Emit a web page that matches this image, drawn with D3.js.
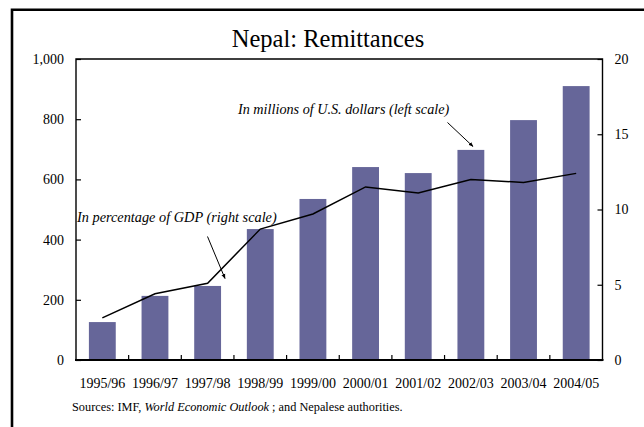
<!DOCTYPE html>
<html>
<head>
<meta charset="utf-8">
<script src="https://cdn.jsdelivr.net/npm/d3@7/dist/d3.min.js"></script>
<style>
  html, body { margin: 0; padding: 0; background: #fff; }
  svg { display: block; }
  svg text { font-family: "Liberation Serif", "Times New Roman", Times, serif; fill: #000; }
</style>
</head>
<body>
<svg id="chart" width="644" height="427"></svg>
<script>
// Fiscal years on the category axis
const years = ["1995/96", "1996/97", "1997/98", "1998/99", "1999/00",
               "2000/01", "2001/02", "2002/03", "2003/04", "2004/05"];
// Remittances, millions of U.S. dollars (bars, left scale)
const remitUSD = [126, 213, 246, 435, 535, 641, 621, 698, 797, 910];
// Remittances, percent of GDP (line, right scale)
const remitGDP = [2.8, 4.4, 5.1, 8.7, 9.7, 11.5, 11.1, 12.0, 11.8, 12.4];
// Tick values for both value axes
const leftTicks = [0, 200, 400, 600, 800, 1000];
const rightTicks = [0, 5, 10, 15, 20];

const serif = "'Liberation Serif', 'Times New Roman', Times, serif";
const svg = d3.select("#chart");
const plot = { left: 76, right: 602.5, top: 59, bottom: 360 };

const x = d3.scaleBand().domain(years).range([plot.left, plot.right]).paddingInner(0.49).paddingOuter(0.245);
const yL = d3.scaleLinear().domain([0, 1000]).range([plot.bottom, plot.top]);
const yR = d3.scaleLinear().domain([0, 20]).range([plot.bottom, plot.top]);

// Outer frame (left and top edges)
svg.append("path")
  .attr("d", "M12,427 L12,9.8 L644,9.8")
  .attr("fill", "none").attr("stroke", "#000").attr("stroke-width", 2.6);

// Title
svg.append("text")
  .attr("x", 328).attr("y", 47)
  .attr("text-anchor", "middle")
  .style("font-family", serif).style("font-size", "24.5px")
  .text("Nepal: Remittances");

// Bars
const barData = years.map((y, i) => ({ year: y, v: remitUSD[i] }));
svg.append("g").selectAll("rect").data(barData).join("rect")
  .attr("x", d => x(d.year))
  .attr("y", d => yL(d.v))
  .attr("width", x.bandwidth())
  .attr("height", d => yL(0) - yL(d.v))
  .attr("fill", "#666699");

// GDP-share line
const lineData = years.map((y, i) => ({ year: y, v: remitGDP[i] }));
svg.append("path")
  .datum(lineData)
  .attr("fill", "none").attr("stroke", "#000").attr("stroke-width", 1.5)
  .attr("d", d3.line().x(d => x(d.year) + x.bandwidth() / 2).y(d => yR(d.v)));

// Plot frame
svg.append("path")
  .attr("d", `M${plot.left},${plot.bottom} L${plot.left},${plot.top} L${plot.right},${plot.top} L${plot.right},${plot.bottom}`)
  .attr("fill", "none").attr("stroke", "#000").attr("stroke-width", 1.4);

// Left axis
const axL = svg.append("g").attr("transform", `translate(${plot.left},0)`)
  .call(d3.axisLeft(yL).tickValues(leftTicks).tickFormat(d3.format(",")).tickSizeInner(-5).tickSizeOuter(0).tickPadding(12));
axL.select(".domain").remove();

// Right axis
const axR = svg.append("g").attr("transform", `translate(${plot.right},0)`)
  .call(d3.axisRight(yR).tickValues(rightTicks).tickSizeInner(-5).tickSizeOuter(0).tickPadding(12));
axR.select(".domain").remove();

// Bottom axis: labels at band centres
const axB = svg.append("g").attr("transform", `translate(0,${plot.bottom})`)
  .call(d3.axisBottom(x).tickSize(0).tickPadding(18));
axB.select(".domain").remove();

svg.selectAll(".tick text").style("font-family", serif).style("font-size", "14px").attr("fill", "#000");
svg.selectAll(".tick line").attr("stroke", "#000").attr("stroke-width", 1.2);

// Bottom axis: tick marks on category boundaries
const step = x.step();
const bounds = years.slice(1).map(y => x(y) - (step - x.bandwidth()) / 2);
svg.append("g").selectAll("line").data(bounds).join("line")
  .attr("x1", d => d).attr("x2", d => d)
  .attr("y1", plot.bottom).attr("y2", plot.bottom - 5)
  .attr("stroke", "#000").attr("stroke-width", 1.2);

// Bottom axis line
svg.append("line")
  .attr("x1", plot.left - 1).attr("x2", plot.right + 1)
  .attr("y1", plot.bottom).attr("y2", plot.bottom)
  .attr("stroke", "#000").attr("stroke-width", 2.2);

// Annotations with arrows
const defs = svg.append("defs");
defs.append("marker")
  .attr("id", "arrow").attr("viewBox", "0 0 10 10")
  .attr("refX", 9).attr("refY", 5)
  .attr("markerWidth", 5).attr("markerHeight", 5)
  .attr("orient", "auto")
  .append("path").attr("d", "M0,1 L10,5 L0,9 Z").attr("fill", "#000");

svg.append("text")
  .attr("x", 238).attr("y", 114)
  .style("font-family", serif).style("font-size", "14.2px").style("font-style", "italic")
  .text("In millions of U.S. dollars (left scale)");
svg.append("line")
  .attr("x1", 447.5).attr("y1", 122.5).attr("x2", 473).attr("y2", 146.5)
  .attr("stroke", "#000").attr("stroke-width", 1).attr("marker-end", "url(#arrow)");

svg.append("text")
  .attr("x", 77).attr("y", 221.5)
  .style("font-family", serif).style("font-size", "14.3px").style("font-style", "italic")
  .text("In percentage of GDP (right scale)");
svg.append("line")
  .attr("x1", 207.5).attr("y1", 236.5).attr("x2", 225).attr("y2", 278.5)
  .attr("stroke", "#000").attr("stroke-width", 1).attr("marker-end", "url(#arrow)");

// Source note
const src = svg.append("text").attr("x", 72).attr("y", 411)
  .style("font-family", serif).style("font-size", "12.3px");
src.append("tspan").text("Sources: IMF, ");
src.append("tspan").style("font-style", "italic").text("World Economic Outlook");
src.append("tspan").text(" ; and Nepalese authorities.");
</script>
</body>
</html>
